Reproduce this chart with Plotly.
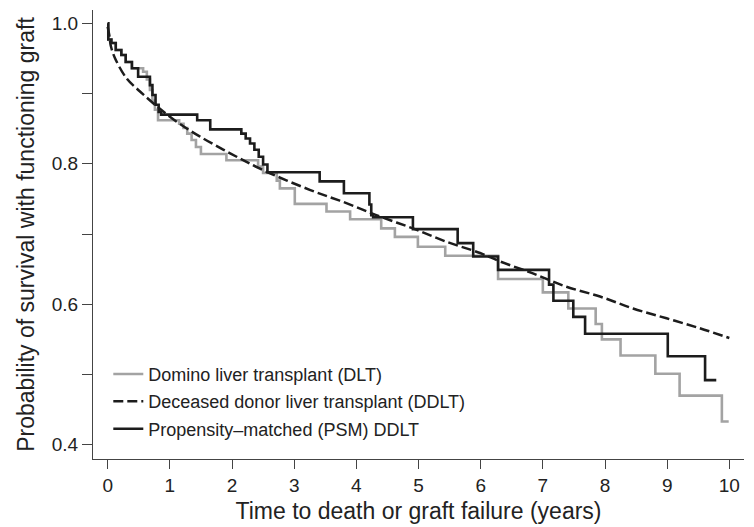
import plotly.graph_objects as go

# Domino liver transplant (DLT) - Kaplan-Meier steps
dlt_t = [0, 0.01, 0.06, 0.13, 0.22, 0.29, 0.39, 0.57, 0.63, 0.68, 0.72, 0.76, 0.81,
         1.15, 1.22, 1.28, 1.35, 1.42, 1.50, 1.91, 2.42, 2.50, 2.72, 2.77, 3.01,
         3.52, 3.90, 4.40, 4.62, 4.99, 5.43, 6.28, 7.00, 7.41, 7.85, 7.95, 8.25,
         8.81, 9.20, 9.88, 9.99]
dlt_v = [1.0, 0.977, 0.972, 0.962, 0.955, 0.945, 0.936, 0.931, 0.920, 0.905, 0.890, 0.877, 0.862,
         0.857, 0.851, 0.843, 0.834, 0.824, 0.814, 0.805, 0.796, 0.787, 0.776, 0.765, 0.743,
         0.732, 0.721, 0.708, 0.696, 0.682, 0.669, 0.636, 0.617, 0.594, 0.572, 0.550, 0.527,
         0.501, 0.470, 0.433, 0.433]

# Deceased donor liver transplant (DDLT) - smooth curve
ddlt_t = [0, 0.03, 0.05, 0.12, 0.31, 0.52, 0.79, 1.11, 1.48, 1.97, 2.50, 3.25, 3.84,
          4.38, 4.91, 5.45, 5.99, 6.31, 6.84, 7.38, 7.92, 8.45, 8.99, 9.52, 10.0]
ddlt_v = [0.995, 0.981, 0.968, 0.950, 0.921, 0.903, 0.882, 0.860, 0.839, 0.815, 0.791, 0.763, 0.744,
          0.725, 0.708, 0.689, 0.673, 0.661, 0.644, 0.625, 0.611, 0.594, 0.580, 0.566, 0.552]

# Propensity-matched (PSM) DDLT - Kaplan-Meier steps
psm_t = [0, 0.01, 0.06, 0.13, 0.22, 0.29, 0.39, 0.49, 0.68, 0.72, 0.77, 0.82, 0.86,
         1.44, 1.65, 2.15, 2.22, 2.29, 2.36, 2.43, 2.50, 2.57, 3.41, 3.80, 4.21,
         4.24, 4.27, 4.91, 5.63, 5.88, 6.28, 7.10, 7.17, 7.49, 7.68, 9.01, 9.61, 9.79]
psm_v = [1.0, 0.977, 0.972, 0.962, 0.955, 0.945, 0.936, 0.924, 0.912, 0.898, 0.884, 0.874, 0.870,
         0.862, 0.849, 0.843, 0.836, 0.829, 0.820, 0.810, 0.799, 0.788, 0.775, 0.758, 0.742,
         0.727, 0.724, 0.707, 0.687, 0.668, 0.649, 0.628, 0.605, 0.582, 0.558, 0.526, 0.492, 0.492]

x_ticks = list(range(0, 11))
y_ticks = [0.4, 0.5, 0.6, 0.7, 0.8, 0.9, 1.0]
y_ticktext = ["0.4", "", "0.6", "", "0.8", "", "1.0"]

FONT = "Liberation Sans, Arial, Helvetica, sans-serif"

fig = go.Figure()
fig.add_trace(go.Scatter(x=dlt_t, y=dlt_v, mode="lines", line_shape="hv",
                         line=dict(color="#a3a3a3", width=2.6),
                         name="Domino liver transplant (DLT)", legendgroup="a"))
fig.add_trace(go.Scatter(x=ddlt_t, y=ddlt_v, mode="lines", line_shape="spline",
                         line=dict(color="#1c1c1c", width=2.5, dash="10px,4px"),
                         name="Deceased donor liver transplant (DDLT)", legendgroup="b"))
fig.add_trace(go.Scatter(x=psm_t, y=psm_v, mode="lines", line_shape="hv",
                         line=dict(color="#1c1c1c", width=2.6),
                         name="Propensity\u2013matched (PSM) DDLT", legendgroup="c"))

# The page body has a default 8px margin, so the figure is sized and offset to compensate.
fig.update_layout(
    width=746, height=519,
    margin=dict(l=85, r=10, t=2, b=68),
    paper_bgcolor="white", plot_bgcolor="white",
    font=dict(family=FONT, size=18, color="#222222"),
    showlegend=True,
    legend=dict(x=0.0235, y=0.2299, xanchor="left", yanchor="top",
                bgcolor="rgba(0,0,0,0)", borderwidth=0,
                traceorder="grouped", tracegroupgap=1,
                font=dict(family=FONT, size=18, color="#222222")),
    xaxis=dict(range=[-0.236, 10.236], tickvals=x_ticks, ticktext=[str(v) for v in x_ticks],
               showgrid=False, zeroline=False, showline=True, linecolor="#444444", linewidth=1.3,
               ticks="outside", ticklen=9, tickwidth=1.3, tickcolor="#444444",
               tickfont=dict(size=19, color="#222222"), automargin=False,
               title=dict(text="Time to death or graft failure (years)", font=dict(size=23, color="#222222"),
                          standoff=7)),
    yaxis=dict(range=[0.3797, 1.019], tickvals=y_ticks, ticktext=y_ticktext,
               showgrid=False, zeroline=False, showline=True, linecolor="#444444", linewidth=1.3,
               ticks="outside", ticklen=10, tickwidth=1.3, tickcolor="#444444",
               tickfont=dict(size=19, color="#222222"), automargin=False,
               title=dict(text="Probability of survival with functioning graft",
                          font=dict(size=23, color="#222222"), standoff=10)),
)

fig.write_html("out.html")
